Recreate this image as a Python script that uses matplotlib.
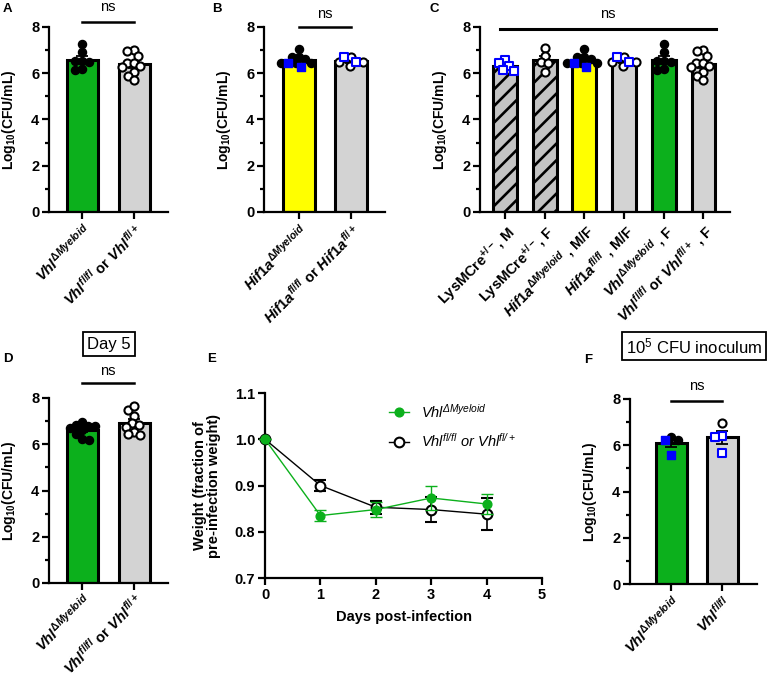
import numpy as np
import matplotlib.pyplot as plt
from matplotlib.lines import Line2D

plt.rcParams['font.family'] = ['Liberation Sans', 'DejaVu Sans']
plt.rcParams['mathtext.fontset'] = 'custom'
plt.rcParams['mathtext.rm'] = 'Liberation Sans:bold'
plt.rcParams['mathtext.bf'] = 'Liberation Sans:bold'
plt.rcParams['mathtext.it'] = 'Liberation Sans:italic:bold'
plt.rcParams['mathtext.sf'] = 'Liberation Sans:italic'
plt.rcParams['mathtext.tt'] = 'Liberation Sans'
plt.rcParams['hatch.linewidth'] = 1.9

GREEN = '#0CB01C'
YELLOW = '#FFFF00'
GRAY = '#D3D3D3'
HATCH_GRAY = '#C4C4C4'

# ---- data (log10 CFU/mL per mouse) ----
# A
vhl_ko_a = [7.28, 6.9, 6.55, 6.55, 6.5, 6.2, 6.15]
vhl_ctrl_a = [7.0, 6.95, 6.75, 6.45, 6.45, 6.3, 6.25, 6.05, 5.9, 5.7]
# B
hif_ko_circles = [7.05, 6.72, 6.72, 6.6, 6.45, 6.45, 6.45]
hif_ko_squares = [6.46, 6.25]
hif_ctrl_circles = [6.72, 6.47, 6.47, 6.31]
hif_ctrl_squares = [6.5, 6.69]
# C (LysMCre controls, the rest re-used from A and B)
lys_m_squares = [6.57, 6.43, 6.31, 6.14, 6.1]
lys_f_circles = [7.1, 6.75, 6.5, 6.45, 6.05]
# D (day 5)
vhl_ko_d = [6.95, 6.82, 6.8, 6.78, 6.7, 6.6, 6.45, 6.22, 6.18]
vhl_ctrl_d = [7.5, 7.65, 7.22, 6.93, 6.83, 6.76, 6.54, 6.4, 6.45]
# E (weight)
days = [0, 1, 2, 3, 4]
weight_ko = [1.0, 0.835, 0.848, 0.873, 0.860]
weight_ko_sem = [0.0, 0.012, 0.017, 0.026, 0.022]
weight_ctrl = [1.0, 0.900, 0.853, 0.848, 0.838]
weight_ctrl_sem = [0.0, 0.011, 0.014, 0.027, 0.034]
# F (10^5 inoculum)
vhl_ko_f_circles = [6.37, 6.23]
vhl_ko_f_squares = [6.23, 5.58]
vhl_ctrl_f_circles = [6.98]
vhl_ctrl_f_squares = [6.4, 6.34, 5.65]

lab_vhl_ko = r'$Vhl^{\Delta Myeloid}$'
lab_vhl_ctrl = r'$Vhl^{fl/fl}$ or $Vhl^{fl/+}$'
lab_hif_ko = r'$Hif1a^{\Delta Myeloid}$'
lab_hif_ctrl = r'$Hif1a^{fl/fl}$ or $Hif1a^{fl/+}$'
labels_c = [r'LysMCre$^{+/-}$, M', r'LysMCre$^{+/-}$, F',
            r'$Hif1a^{\Delta Myeloid}$ , M/F', r'$Hif1a^{fl/fl}$ , M/F',
            r'$Vhl^{\Delta Myeloid}$ , F', r'$Vhl^{fl/fl}$ or $Vhl^{fl/+}$ , F']

STYLES = {
    'fc': dict(marker='o', facecolor='black', edgecolor='black', linewidths=1.0, s=34),
    'oc': dict(marker='o', facecolor='white', edgecolor='black', linewidths=1.5, s=34),
    'fs': dict(marker='s', facecolor='blue', edgecolor='blue', linewidths=1.0, s=30),
    'os': dict(marker='s', facecolor='white', edgecolor='blue', linewidths=1.5, s=30),
}

W, H = 768, 677
fig = plt.figure(figsize=(W / 100, H / 100), dpi=100)


def add_ax(l, t, r, b):
    return fig.add_axes([l / W, 1 - b / H, (r - l) / W, (b - t) / H])


def swarm(ax, xc, vals, d):
    trans = ax.transData
    pts = trans.transform(np.column_stack([np.full(len(vals), xc), vals]))
    order = np.argsort(vals)[::-1]
    placed = []
    xs = np.zeros(len(vals))
    for i in order:
        x0, y0 = pts[i]
        cands = [x0]
        for px, py in placed:
            dy = y0 - py
            if abs(dy) < d:
                dx = np.sqrt(d ** 2 - dy ** 2)
                cands += [px - dx, px + dx]
        cands.sort(key=lambda c: (abs(c - x0), c))
        for c in cands:
            if all((c - px) ** 2 + (y0 - py) ** 2 >= d ** 2 - 1e-6 for px, py in placed):
                break
        placed.append((c, y0))
        xs[i] = trans.inverted().transform((c, y0))[0]
    return xs


def style_axes(ax):
    for s in ['top', 'right']:
        ax.spines[s].set_visible(False)
    for s in ['left', 'bottom']:
        ax.spines[s].set_linewidth(1.6)
    ax.tick_params(which='major', width=1.6, length=5, labelsize=10.5, pad=2)
    ax.tick_params(which='minor', width=1.6, length=3)
    for t in ax.get_yticklabels():
        t.set_fontweight('bold')


def cfu_axes(ax, xlim, labels, label_dx=-31, xfs=9.5):
    ax.set_xlim(xlim)
    ax.set_ylim(0, 8)
    ax.set_yticks([0, 2, 4, 6, 8])
    ax.set_yticks([1, 3, 5, 7], minor=True)
    ax.set_xticks(range(len(labels)))
    ax.set_xticklabels(labels, rotation=45, ha='right', rotation_mode='anchor',
                       fontsize=xfs, fontweight='bold')
    style_axes(ax)
    ax.set_ylabel(r'Log$_{\mathbf{10}}$(CFU/mL)', fontsize=10, fontweight='bold')
    w = ax.get_position().width * W
    ax.yaxis.set_label_coords(label_dx / w, 0.5)


def bar_panel(ax, groups, colors, hatches=None, d=7.0):
    for i, grp in enumerate(groups):
        allv = np.concatenate([np.asarray(v, float) for v, _ in grp])
        m = allv.mean()
        sem = allv.std(ddof=1) / np.sqrt(len(allv))
        ax.bar(i, m, width=0.6, color=colors[i], edgecolor='black', lw=2.2,
               hatch=hatches[i] if hatches else None, zorder=1)
        ax.errorbar(i, m, yerr=sem, color='black', capsize=4, elinewidth=1.3,
                    capthick=1.3, zorder=2)
        xs = swarm(ax, i, allv, d)
        k = 0
        for v, st in grp:
            n = len(v)
            ax.scatter(xs[k:k + n], v, zorder=3, clip_on=False, **STYLES[st])
            k += n


def ns_mark(ax, x0, x1, yline, ytext):
    ax.plot([x0, x1], [yline, yline], color='black', lw=1.8, clip_on=False)
    ax.text((x0 + x1) / 2, ytext, 'ns', ha='center', va='center', fontsize=10.5)


# ---- A ----
axA = add_ax(49, 27, 168, 212)
cfu_axes(axA, (-0.64, 1.65), [lab_vhl_ko, lab_vhl_ctrl])
bar_panel(axA, [[(vhl_ko_a, 'fc')], [(vhl_ctrl_a, 'oc')]], [GREEN, GRAY])
ns_mark(axA, 0, 1, 8.22, 8.85)

# ---- B ----
axB = add_ax(264, 27, 385, 212)
cfu_axes(axB, (-0.67, 1.65), [lab_hif_ko, lab_hif_ctrl])
bar_panel(axB, [[(hif_ko_circles, 'fc'), (hif_ko_squares, 'fs')],
                [(hif_ctrl_circles, 'oc'), (hif_ctrl_squares, 'os')]], [YELLOW, GRAY])
ns_mark(axB, 0, 1, 8.0, 8.58)

# ---- C ----
axC = add_ax(480, 27, 730, 212)
cfu_axes(axC, (-0.63, 5.67), labels_c)
bar_panel(axC, [[(lys_m_squares, 'os')], [(lys_f_circles, 'oc')],
                [(hif_ko_circles, 'fc'), (hif_ko_squares, 'fs')],
                [(hif_ctrl_circles, 'oc'), (hif_ctrl_squares, 'os')],
                [(vhl_ko_a, 'fc')], [(vhl_ctrl_a, 'oc')]],
          [HATCH_GRAY, HATCH_GRAY, YELLOW, GRAY, GREEN, GRAY],
          hatches=['//', '//', None, None, None, None])
axC.plot([-0.13, 5.31], [7.9, 7.9], color='black', lw=2.2, clip_on=False)
axC.text(2.6, 8.55, 'ns', ha='center', va='center', fontsize=10.5)

# ---- D ----
axD = add_ax(49, 398, 168, 583)
cfu_axes(axD, (-0.64, 1.65), [lab_vhl_ko, lab_vhl_ctrl], xfs=8.2)
axD.tick_params(axis='x', pad=1)
bar_panel(axD, [[(vhl_ko_d, 'fc')], [(vhl_ctrl_d, 'oc')]], [GREEN, GRAY])
ns_mark(axD, 0, 1, 8.64, 9.17)

# ---- E ----
axE = add_ax(265, 393, 542, 578)
axE.set_xlim(0, 5)
axE.set_ylim(0.7, 1.1)
axE.errorbar(days, weight_ctrl, yerr=weight_ctrl_sem, color='black', lw=1.0,
             marker='o', ms=7, mfc='white', mec='black', mew=1.5,
             capsize=4, elinewidth=1.2, capthick=1.2, clip_on=False, zorder=3)
axE.errorbar(days, weight_ko, yerr=weight_ko_sem, color=GREEN, lw=1.0,
             marker='o', ms=6.3, mfc=GREEN, mec=GREEN,
             capsize=4, elinewidth=1.0, capthick=1.0, clip_on=False, zorder=4)
axE.set_xticks(range(6))
axE.set_yticks([0.7, 0.8, 0.9, 1.0, 1.1])
axE.set_yticklabels(['0.7', '0.8', '0.9', '1.0', '1.1'])
style_axes(axE)
for t in axE.get_xticklabels():
    t.set_fontweight('bold')
axE.set_xlabel('Days post-infection', fontsize=10.5, fontweight='bold', labelpad=6)
axE.set_ylabel('Weight (fraction of\npre-infection weight)', fontsize=10.5,
               fontweight='bold', linespacing=1.0)
axE.yaxis.set_label_coords(-44 / 277, 0.5)
handles = [Line2D([], [], color=GREEN, lw=1.0, marker='o', ms=6.3, mfc=GREEN, mec=GREEN),
           Line2D([], [], color='black', lw=1.0, marker='o', ms=7, mfc='white', mec='black', mew=1.5)]
axE.legend(handles, [r'$\mathsf{Vhl^{\Delta Myeloid}}$',
                     r'$\mathsf{Vhl^{fl/fl}\ or\ Vhl^{fl/+}}$'],
           frameon=False, loc='upper left', bbox_to_anchor=(0.4, 1.02),
           fontsize=10.5, handlelength=1.4, handletextpad=0.8, labelspacing=0.8)

# ---- F ----
axF = add_ax(630, 399, 757, 584)
cfu_axes(axF, (-0.81, 1.68), [lab_vhl_ko, r'$Vhl^{fl/fl}$'])
bar_panel(axF, [[(vhl_ko_f_circles, 'fc'), (vhl_ko_f_squares, 'fs')],
                [(vhl_ctrl_f_circles, 'oc'), (vhl_ctrl_f_squares, 'os')]], [GREEN, GRAY])
ns_mark(axF, 0, 1, 7.93, 8.56)

# ---- panel letters and boxes ----
for letter, x, y in [('A', 3, 3), ('B', 212, 3), ('C', 430, 3),
                     ('D', 3, 353), ('E', 207, 353), ('F', 584, 354)]:
    fig.text(x / W, 1 - y / H, letter, fontsize=9.5, fontweight='bold', va='top', ha='left')

box = dict(boxstyle='square,pad=0.25', fc='white', ec='black', lw=1.3)
fig.text(109 / W, 1 - 344 / H, 'Day 5', fontsize=12, ha='center', va='center', bbox=box)
fig.text(694 / W, 1 - 346 / H, r'10$^{\mathtt{5}}$ CFU inoculum', fontsize=12,
         ha='center', va='center', bbox=box)

fig.savefig('out.png', dpi=100)
